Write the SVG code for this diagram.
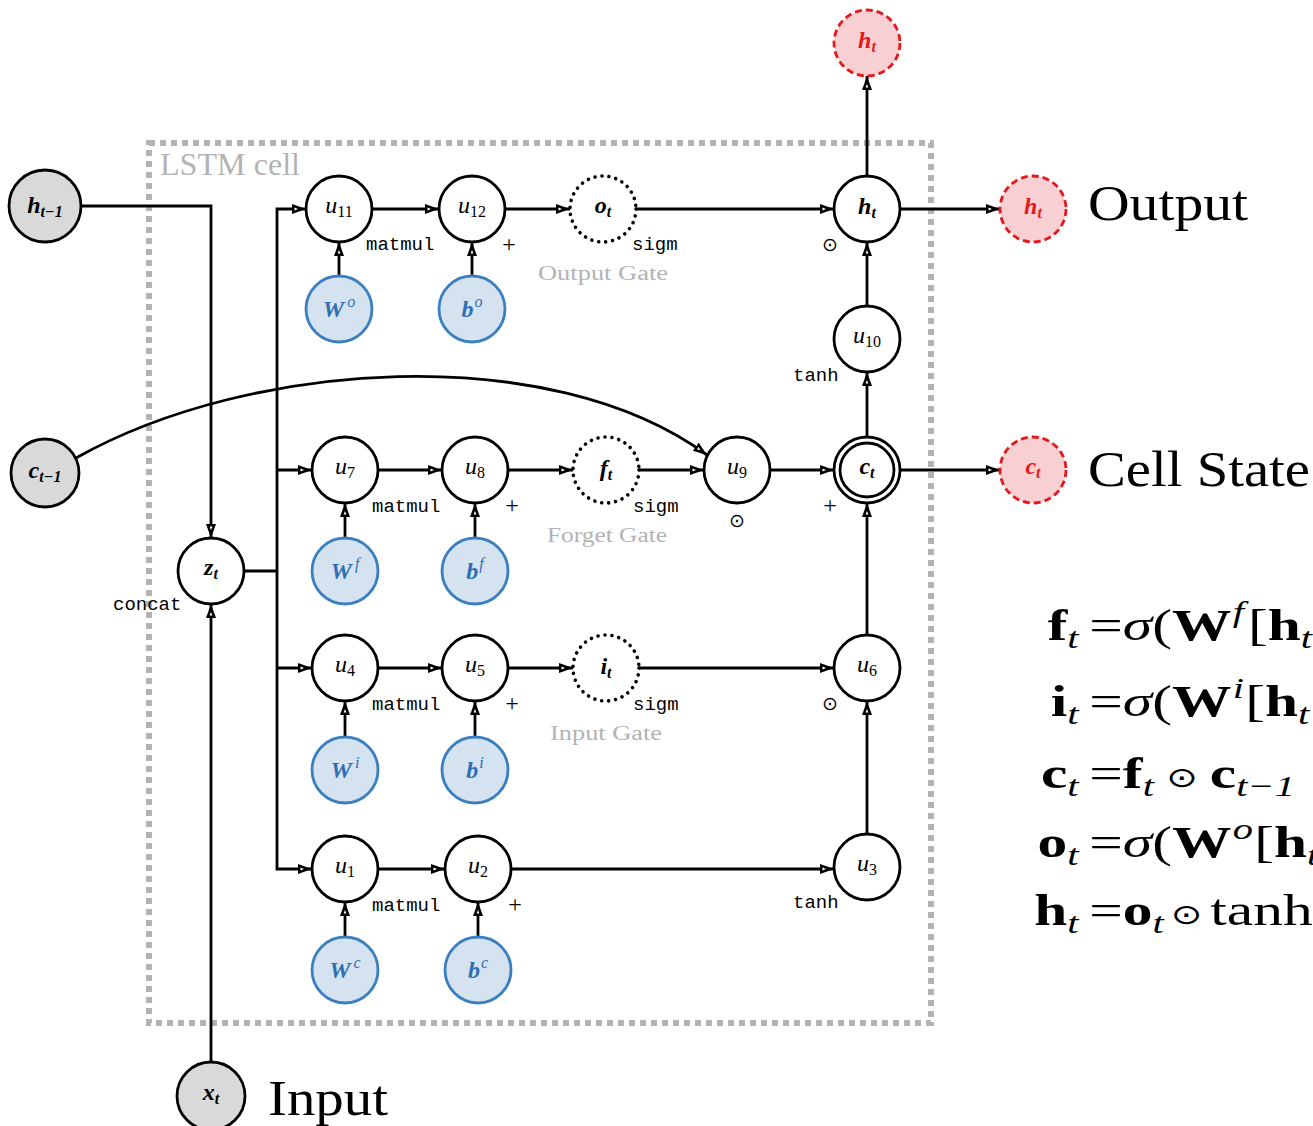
<svg xmlns="http://www.w3.org/2000/svg" width="1313" height="1126" viewBox="0 0 1313 1126">
<style>
.n{fill:#fff;stroke:#000;stroke-width:2.8}
.g{fill:#d9d9d9}
.w{fill:#d5e3f1;stroke:#3a7fc1}
.r{fill:#f8cfd2;stroke:#e3191c;stroke-dasharray:7 4}
.d{stroke-dasharray:0.01 7;stroke-linecap:round;stroke-width:3.6}
.m{font-family:"Liberation Serif",serif;font-style:italic;font-size:24px;text-anchor:middle;fill:#000}
.b{font-weight:bold}
.s{font-size:16px}
.bt{fill:#2e6fb3}
.rt{fill:#e3191c}
.code{font-family:"Liberation Mono",monospace;font-size:19px;fill:#000}
.gate{font-family:"Liberation Serif",serif;font-size:20px;fill:#b3b3b3}
.big{font-family:"Liberation Serif",serif;font-size:50px;fill:#000}
.op{font-family:"DejaVu Sans",sans-serif;font-size:19px;text-anchor:middle;fill:#000}
.pl{font-family:"Liberation Serif",serif;font-size:24px;text-anchor:middle;fill:#000}
.e{fill:none;stroke:#000;stroke-width:2.8;marker-end:url(#a)}
.l{fill:none;stroke:#000;stroke-width:2.8}
.eq{font-family:"Liberation Serif",serif;font-size:44px;fill:#000}
.eqs{font-size:30px;font-style:italic;font-weight:normal}
.odot{font-family:"DejaVu Sans",sans-serif;font-size:28px}
</style>
<defs>
<marker id="a" markerUnits="userSpaceOnUse" markerWidth="16" markerHeight="12" refX="14" refY="5" orient="auto">
<path d="M0,0 L14,5 L0,10 z" fill="#000"/>
<path d="M2.5,3.6 L6,5 L2.5,6.4 z" fill="#fff"/>
</marker>
</defs>

<!-- LSTM cell box -->
<g id="lstm-cell">
<rect x="149" y="143" width="782" height="880" fill="none" stroke="#b3b3b3" stroke-width="6" stroke-dasharray="6 5"/>
<text x="160" y="175" font-family="Liberation Serif, serif" font-size="32" fill="#b3b3b3" textLength="140" lengthAdjust="spacingAndGlyphs">LSTM cell</text>
</g>

<!-- connectors -->
<g id="connectors">
<path class="e" d="M81,206 H211 V538"/>
<path class="e" d="M211,1062 V604"/>
<path class="l" d="M244,571 H277"/>
<path class="e" d="M277,571 V209 H306"/>
<path class="e" d="M277,571 V869 H312"/>
<path class="e" d="M277,470 H312"/>
<path class="e" d="M277,668 H312"/>
<path class="e" d="M372,209 H439"/>
<path class="e" d="M505,209 H570"/>
<path class="e" d="M636,209 H834"/>
<path class="e" d="M339,276 V242"/>
<path class="e" d="M472,276 V242"/>
<path class="e" d="M378,470 H442"/>
<path class="e" d="M508,470 H573"/>
<path class="e" d="M639,470 H704"/>
<path class="e" d="M76,458 C250,360 550,340 707,455"/>
<path class="e" d="M770,470 H834"/>
<path class="e" d="M867,437 V372"/>
<path class="e" d="M867,306 V242"/>
<path class="e" d="M867,176 V76"/>
<path class="e" d="M900,209 H1000"/>
<path class="e" d="M900,470 H1000"/>
<path class="e" d="M345,538 V503"/>
<path class="e" d="M475,538 V503"/>
<path class="e" d="M378,668 H442"/>
<path class="e" d="M508,668 H573"/>
<path class="e" d="M639,668 H834"/>
<path class="e" d="M345,737 V701"/>
<path class="e" d="M475,737 V701"/>
<path class="e" d="M867,635 V503"/>
<path class="e" d="M378,869 H445"/>
<path class="e" d="M511,869 H834"/>
<path class="e" d="M867,834 V701"/>
<path class="e" d="M345,937 V902"/>
<path class="e" d="M478,937 V902"/>
</g>

<!-- inputs -->
<g id="h_prev"><circle class="n g" cx="45" cy="206" r="36"/><text class="m b" x="45" y="213">h<tspan class="s" dy="4">t−1</tspan></text></g>
<g id="c_prev"><circle class="n g" cx="45" cy="473" r="34"/><text class="m b" x="45" y="478">c<tspan class="s" dy="4">t−1</tspan></text></g>
<g id="x_t"><circle class="n g" cx="211" cy="1096" r="34"/><text class="m b" x="211" y="1100">x<tspan class="s" dy="4">t</tspan></text></g>
<g id="z_t"><circle class="n" cx="211" cy="571" r="33"/><text class="m b" x="211" y="575">z<tspan class="s" dy="4">t</tspan></text></g>

<!-- output gate row -->
<g id="u11"><circle class="n" cx="339" cy="209" r="33"/><text class="m" x="339" y="213">u<tspan class="s" dy="4" font-style="normal">11</tspan></text></g>
<g id="u12"><circle class="n" cx="472" cy="209" r="33"/><text class="m" x="472" y="213">u<tspan class="s" dy="4" font-style="normal">12</tspan></text></g>
<g id="o_t"><circle class="n d" cx="603" cy="209" r="33"/><text class="m b" x="603" y="213">o<tspan class="s" dy="4">t</tspan></text></g>
<g id="h_t"><circle class="n" cx="867" cy="209" r="33"/><text class="m b" x="867" y="214">h<tspan class="s" dy="4">t</tspan></text></g>
<g id="W_o"><circle class="n w" cx="339" cy="309" r="33"/><text class="m b bt" x="339" y="317">W<tspan class="s" dx="3" dy="-10" font-weight="normal">o</tspan></text></g>
<g id="b_o"><circle class="n w" cx="472" cy="309" r="33"/><text class="m b bt" x="472" y="317">b<tspan class="s" dx="1" dy="-10" font-weight="normal">o</tspan></text></g>
<g id="u10"><circle class="n" cx="867" cy="339" r="33"/><text class="m" x="867" y="343">u<tspan class="s" dy="4" font-style="normal">10</tspan></text></g>

<!-- forget gate row -->
<g id="u7"><circle class="n" cx="345" cy="470" r="33"/><text class="m" x="345" y="474">u<tspan class="s" dy="4" font-style="normal">7</tspan></text></g>
<g id="u8"><circle class="n" cx="475" cy="470" r="33"/><text class="m" x="475" y="474">u<tspan class="s" dy="4" font-style="normal">8</tspan></text></g>
<g id="f_t"><circle class="n d" cx="606" cy="470" r="33"/><text class="m b" x="606" y="476">f<tspan class="s" dy="4">t</tspan></text></g>
<g id="u9"><circle class="n" cx="737" cy="470" r="33"/><text class="m" x="737" y="474">u<tspan class="s" dy="4" font-style="normal">9</tspan></text></g>
<g id="c_t"><circle class="n" cx="867" cy="470" r="33"/><circle class="n" cx="867" cy="470" r="27"/><text class="m b" x="867" y="474">c<tspan class="s" dy="4">t</tspan></text></g>
<g id="W_f"><circle class="n w" cx="345" cy="571" r="33"/><text class="m b bt" x="345" y="579">W<tspan class="s" dx="3" dy="-10" font-weight="normal">f</tspan></text></g>
<g id="b_f"><circle class="n w" cx="475" cy="571" r="33"/><text class="m b bt" x="475" y="579">b<tspan class="s" dx="1" dy="-10" font-weight="normal">f</tspan></text></g>

<!-- input gate row -->
<g id="u4"><circle class="n" cx="345" cy="668" r="33"/><text class="m" x="345" y="672">u<tspan class="s" dy="4" font-style="normal">4</tspan></text></g>
<g id="u5"><circle class="n" cx="475" cy="668" r="33"/><text class="m" x="475" y="672">u<tspan class="s" dy="4" font-style="normal">5</tspan></text></g>
<g id="i_t"><circle class="n d" cx="606" cy="668" r="33"/><text class="m b" x="606" y="674">i<tspan class="s" dy="4">t</tspan></text></g>
<g id="u6"><circle class="n" cx="867" cy="668" r="33"/><text class="m" x="867" y="672">u<tspan class="s" dy="4" font-style="normal">6</tspan></text></g>
<g id="W_i"><circle class="n w" cx="345" cy="770" r="33"/><text class="m b bt" x="345" y="778">W<tspan class="s" dx="3" dy="-10" font-weight="normal">i</tspan></text></g>
<g id="b_i"><circle class="n w" cx="475" cy="770" r="33"/><text class="m b bt" x="475" y="778">b<tspan class="s" dx="1" dy="-10" font-weight="normal">i</tspan></text></g>

<!-- candidate row -->
<g id="u1"><circle class="n" cx="345" cy="869" r="33"/><text class="m" x="345" y="873">u<tspan class="s" dy="4" font-style="normal">1</tspan></text></g>
<g id="u2"><circle class="n" cx="478" cy="869" r="33"/><text class="m" x="478" y="873">u<tspan class="s" dy="4" font-style="normal">2</tspan></text></g>
<g id="u3"><circle class="n" cx="867" cy="867" r="33"/><text class="m" x="867" y="871">u<tspan class="s" dy="4" font-style="normal">3</tspan></text></g>
<g id="W_c"><circle class="n w" cx="345" cy="970" r="33"/><text class="m b bt" x="345" y="978">W<tspan class="s" dx="3" dy="-10" font-weight="normal">c</tspan></text></g>
<g id="b_c"><circle class="n w" cx="478" cy="970" r="33"/><text class="m b bt" x="478" y="978">b<tspan class="s" dx="1" dy="-10" font-weight="normal">c</tspan></text></g>

<!-- outputs -->
<g id="h_t_top"><circle class="n r" cx="867" cy="43" r="33"/><text class="m b rt" x="867" y="48">h<tspan class="s" dy="4">t</tspan></text></g>
<g id="h_t_out"><circle class="n r" cx="1033" cy="209" r="33"/><text class="m b rt" x="1033" y="214">h<tspan class="s" dy="4">t</tspan></text></g>
<g id="c_t_out"><circle class="n r" cx="1033" cy="470" r="33"/><text class="m b rt" x="1033" y="474">c<tspan class="s" dy="4">t</tspan></text></g>

<!-- operation labels -->
<g id="labels">
<text class="code" x="366" y="250">matmul</text>
<text class="pl" x="509" y="252">+</text>
<text class="code" x="632" y="250">sigm</text>
<text class="gate" x="538" y="280" textLength="130" lengthAdjust="spacingAndGlyphs">Output Gate</text>
<text class="op" x="830" y="251">⊙</text>
<text class="code" x="793" y="381">tanh</text>

<text class="code" x="372" y="512">matmul</text>
<text class="pl" x="512" y="513">+</text>
<text class="code" x="633" y="512">sigm</text>
<text class="gate" x="547" y="542" textLength="120" lengthAdjust="spacingAndGlyphs">Forget Gate</text>
<text class="op" x="737" y="527">⊙</text>
<text class="pl" x="830" y="513">+</text>
<text class="code" x="113" y="610">concat</text>

<text class="code" x="372" y="710">matmul</text>
<text class="pl" x="512" y="711">+</text>
<text class="code" x="633" y="710">sigm</text>
<text class="gate" x="550" y="740" textLength="112" lengthAdjust="spacingAndGlyphs">Input Gate</text>
<text class="op" x="830" y="710">⊙</text>

<text class="code" x="372" y="911">matmul</text>
<text class="pl" x="515" y="912">+</text>
<text class="code" x="793" y="908">tanh</text>

<text class="big" x="1088" y="220" textLength="160" lengthAdjust="spacingAndGlyphs">Output</text>
<text class="big" x="1088" y="486" textLength="222" lengthAdjust="spacingAndGlyphs">Cell State</text>
<text class="big" x="268" y="1115" textLength="120" lengthAdjust="spacingAndGlyphs">Input</text>
</g>

<!-- equations -->
<g id="equations" class="eq" transform="matrix(1.35 0 0 1 -380.8 0)">
<text x="1081" y="640" text-anchor="end"><tspan font-weight="bold">f</tspan><tspan class="eqs" dy="8">t</tspan></text>
<text x="1089" y="640">=<tspan font-style="italic">σ</tspan>(<tspan font-weight="bold">W</tspan><tspan class="eqs" dx="1" dy="-18">f</tspan><tspan dx="3" dy="18">[</tspan><tspan font-weight="bold">h</tspan><tspan class="eqs" dy="8">t</tspan></text>

<text x="1081" y="716" text-anchor="end"><tspan font-weight="bold">i</tspan><tspan class="eqs" dy="8">t</tspan></text>
<text x="1089" y="716">=<tspan font-style="italic">σ</tspan>(<tspan font-weight="bold">W</tspan><tspan class="eqs" dx="1" dy="-18">i</tspan><tspan dx="1" dy="18">[</tspan><tspan font-weight="bold">h</tspan><tspan class="eqs" dy="8">t−</tspan></text>

<text x="1081" y="788" text-anchor="end"><tspan font-weight="bold">c</tspan><tspan class="eqs" dy="8">t</tspan></text>
<text x="1089" y="788">=<tspan font-weight="bold">f</tspan><tspan class="eqs" dy="8">t</tspan><tspan class="odot" dx="9" dy="-9">⊙</tspan><tspan dx="9" dy="1" font-weight="bold">c</tspan><tspan class="eqs" dy="8">t−1</tspan></text>

<text x="1081" y="857" text-anchor="end"><tspan font-weight="bold">o</tspan><tspan class="eqs" dy="8">t</tspan></text>
<text x="1089" y="857">=<tspan font-style="italic">σ</tspan>(<tspan font-weight="bold">W</tspan><tspan class="eqs" dx="1" dy="-18">o</tspan><tspan dx="1" dy="18">[</tspan><tspan font-weight="bold">h</tspan><tspan class="eqs" dy="8">t−</tspan></text>

<text x="1081" y="925" text-anchor="end"><tspan font-weight="bold">h</tspan><tspan class="eqs" dy="8">t</tspan></text>
<text x="1089" y="925">=<tspan font-weight="bold">o</tspan><tspan class="eqs" dy="8">t</tspan><tspan class="odot" dx="5" dy="-9">⊙</tspan><tspan dx="6" dy="1">tanh</tspan></text>
</g>
</svg>
